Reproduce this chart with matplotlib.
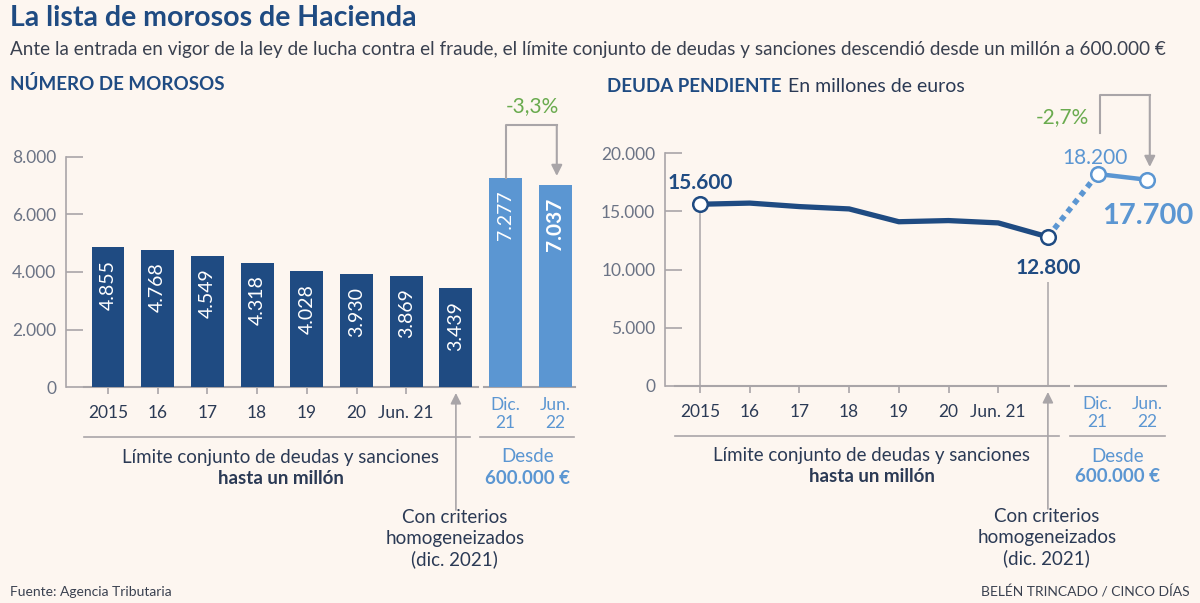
import matplotlib.pyplot as plt

W, H = 1200, 603
BG = '#fdf6f0'
DARK = '#1f4b82'
LIGHT = '#5b96d2'
GRAY = '#a9a5a8'
TXT = '#2b3a55'
YTXT = '#6b7385'
GREEN = '#6aab4f'

plt.rcParams['font.family'] = ['Lato', 'DejaVu Sans']

# data
x_labels = ['2015', '16', '17', '18', '19', '20', 'Jun. 21']
new_labels = ['Dic.\n21', 'Jun.\n22']
morosos = [4855, 4768, 4549, 4318, 4028, 3930, 3869, 3439, 7277, 7037]
deuda = [15600, 15700, 15400, 15200, 14100, 14200, 14000, 12800, 18200, 17700]
n_old = 8  # hasta un millón (incl. dic. 2021 homogeneizado)

STEP = 49.7  # px per category


def dots(v):
  return f'{v:,.0f}'.replace(',', '.')


def px_axes(fig, x0, x1, y_top, y_bot):
  return fig.add_axes([x0 / W, 1 - y_bot / H, (x1 - x0) / W, (y_bot - y_top) / H])


fig = plt.figure(figsize=(W / 100, H / 100), dpi=100, facecolor=BG)

# ---- left: number of debtors
ax1 = px_axes(fig, 66, 580, 130, 387)
ax1.set_xlim(-(108 - 66) / STEP, (580 - 108) / STEP)
ax1.set_ylim(0, 257 / 230 * 8000)

# ---- right: pending debt
ax2 = px_axes(fig, 665, 1185, 130, 386)
ax2.set_xlim(-(700 - 665) / STEP, (1185 - 700) / STEP)
ax2.set_ylim(0, 256 / 233 * 20000)

for ax, top in ((ax1, 8000), (ax2, 20000)):
  ax.set_facecolor('none')
  for s in ('top', 'right', 'bottom'):
    ax.spines[s].set_visible(False)
  ax.spines['left'].set_color(GRAY)
  ax.spines['left'].set_linewidth(1.2)
  ax.spines['left'].set_bounds(0, top)
  ticks = [top * k / 4 for k in range(5)]
  ax.set_yticks(ticks)
  ax.set_yticklabels([dots(t) for t in ticks])
  ax.tick_params(axis='y', direction='in', length=12, width=1.2, color=GRAY,
                 labelcolor=YTXT, labelsize=12.5, pad=7)
  ax.set_xticks(range(len(x_labels)))
  ax.set_xticklabels(x_labels)
  ax.tick_params(axis='x', length=5, width=1.2, color=GRAY, labelcolor=TXT,
                 labelsize=12.5, pad=8)
  for i, lab in enumerate(new_labels):
    ax.text(n_old + i, -27 / 257, lab, transform=ax.get_xaxis_transform(),
            ha='center', va='center', color=LIGHT, fontsize=12.5, linespacing=1.2)

xs = list(range(len(morosos)))

# bars
ax1.bar(xs[:n_old], morosos[:n_old], width=0.66, color=DARK, zorder=2)
ax1.bar(xs[n_old:], morosos[n_old:], width=0.66, color=LIGHT, zorder=2)
for i, v in enumerate(morosos):
  big = i == len(morosos) - 1
  ax1.annotate(dots(v), (i, v), xytext=(0, -9), textcoords='offset points',
               rotation=90, ha='center', va='top', color='white',
               fontsize=15 if big else 14, weight='bold' if big else 'normal')

# line
ax2.plot(xs[:n_old], deuda[:n_old], color=DARK, lw=3.8, solid_joinstyle='round', zorder=3)
ax2.plot(xs[n_old - 1:n_old + 1], deuda[n_old - 1:n_old + 1], color=LIGHT, lw=4,
         linestyle=(0, (1, 0.9)), zorder=2)
ax2.plot(xs[n_old:], deuda[n_old:], color=LIGHT, lw=3.2, zorder=3)
for i in (0, n_old - 1):
  ax2.plot(i, deuda[i], 'o', ms=10.5, mfc='white', mec=DARK, mew=1.8, zorder=4)
for i in (n_old, n_old + 1):
  ax2.plot(i, deuda[i], 'o', ms=10.5, mfc='white', mec=LIGHT, mew=1.8, zorder=4)
ax2.vlines(0, 0, deuda[0], color=GRAY, lw=1.1, zorder=1)
ax2.vlines(n_old - 1, 0, 8900, color=GRAY, lw=1.1, zorder=1)

ax2.text(0, 17430, dots(deuda[0]), ha='center', va='center', color=DARK,
         fontsize=15, weight='bold')
ax2.text(n_old - 1, 10130, dots(deuda[n_old - 1]), ha='center', va='center',
         color=DARK, fontsize=15, weight='bold')
ax2.text(n_old - 0.05, 19570, dots(deuda[n_old]), ha='center', va='center',
         color=LIGHT, fontsize=15)
ax2.text(n_old + 1, 14590, dots(deuda[n_old + 1]), ha='center', va='center',
         color=LIGHT, fontsize=21, weight='bold')

# baselines, separators, notes
panels = [
  (ax1, 257, (-0.48, 7.44, 7.57, 9.40), (-0.48, 7.28, 7.48, 9.38), 3.48, 8.45),
  (ax2, 256, (-0.50, 7.42, 7.55, 9.38), (-0.50, 7.22, 7.44, 9.36), 3.46, 8.41),
]
for ax, hpx, base, sep, mid_old, mid_new in panels:
  tr = ax.get_xaxis_transform()
  ax.plot(base[:2], [0, 0], color=GRAY, lw=1.5, clip_on=False, zorder=1)
  ax.plot(base[2:], [0, 0], color=GRAY, lw=1.5, clip_on=False, zorder=1)
  ax.plot(sep[:2], [-50 / hpx] * 2, color=GRAY, lw=1.2, transform=tr, clip_on=False)
  ax.plot(sep[2:], [-50 / hpx] * 2, color=GRAY, lw=1.2, transform=tr, clip_on=False)
  ax.text(mid_old, -70 / hpx, 'Límite conjunto de deudas y sanciones', transform=tr,
          ha='center', va='center', color=TXT, fontsize=13.5)
  ax.text(mid_old, -91 / hpx, 'hasta un millón', transform=tr,
          ha='center', va='center', color=TXT, fontsize=13.5, weight='bold')
  ax.text(mid_new, -70 / hpx, 'Desde', transform=tr,
          ha='center', va='center', color=LIGHT, fontsize=13.5)
  ax.text(mid_new, -91 / hpx, '600.000 €', transform=tr,
          ha='center', va='center', color=LIGHT, fontsize=13.5, weight='bold')
  ax.annotate('', xy=(n_old - 1, -6 / hpx), xytext=(n_old - 1, -123 / hpx),
              xycoords=tr, textcoords=tr,
              arrowprops=dict(arrowstyle='-|>', color=GRAY, lw=1.2,
                              mutation_scale=16, shrinkA=0, shrinkB=0))
  ax.text(n_old - 1.02, -152 / hpx, 'Con criterios\nhomogeneizados\n(dic. 2021)',
          transform=tr, ha='center', va='center', color=TXT, fontsize=13.5,
          linespacing=1.25)

# change brackets
ax1.plot([8, 8, 9.03], [morosos[8], 9113, 9113], color=GRAY, lw=1.5, clip_on=False)
ax1.annotate('', xy=(9.03, 7340), xytext=(9.03, 9113),
             arrowprops=dict(arrowstyle='-|>', color=GRAY, lw=1.5,
                             mutation_scale=16, shrinkA=0, shrinkB=0),
             annotation_clip=False)
ax1.text(8.53, 9775, '-3,3%', ha='center', va='center', color=GREEN, fontsize=15)

ax2.plot([8.05, 8.05, 9.05], [21720, 24980, 24980], color=GRAY, lw=1.5, clip_on=False)
ax2.annotate('', xy=(9.05, 18800), xytext=(9.05, 24980),
             arrowprops=dict(arrowstyle='-|>', color=GRAY, lw=1.5,
                             mutation_scale=16, shrinkA=0, shrinkB=0),
             annotation_clip=False)
ax2.text(7.3, 23090, '-2,7%', ha='center', va='center', color=GREEN, fontsize=15)

# titles
fig.text(10 / W, 1 - 18 / H, 'La lista de morosos de Hacienda', color=DARK,
         fontsize=20.5, weight='bold', va='center')
fig.text(10 / W, 1 - 50 / H,
         'Ante la entrada en vigor de la ley de lucha contra el fraude, el límite conjunto '
         'de deudas y sanciones descendió desde un millón a 600.000 €',
         color='#3a4150', fontsize=13.6, va='center')
fig.text(10 / W, 1 - 84 / H, 'NÚMERO DE MOROSOS', color=DARK, fontsize=13.5,
         weight='bold', va='center')
fig.text(607 / W, 1 - 86 / H, 'DEUDA PENDIENTE', color=DARK, fontsize=13.5,
         weight='bold', va='center')
fig.text(788 / W, 1 - 86 / H, 'En millones de euros', color=TXT, fontsize=14,
         va='center')
fig.text(10 / W, 1 - 592 / H, 'Fuente: Agencia Tributaria', color='#3a4150',
         fontsize=10, va='center')
fig.text(1190 / W, 1 - 592 / H, 'BELÉN TRINCADO / CINCO DÍAS', color='#3a4150',
         fontsize=10, va='center', ha='right')

fig.savefig('out.png', dpi=100, facecolor=BG)
